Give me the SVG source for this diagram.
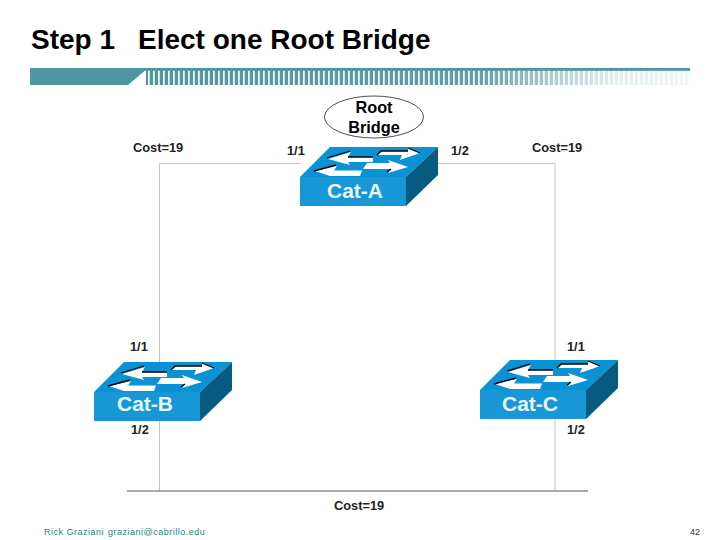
<svg xmlns="http://www.w3.org/2000/svg" width="720" height="540" viewBox="0 0 720 540">
<style>
text{font-family:"Liberation Sans",Arial,sans-serif;fill:#000}
.l{font-size:12.800px;font-weight:bold;fill:#222}
.n{font-size:21px;font-weight:bold;fill:#e8f6fc;text-anchor:middle}
.top{fill:#0a92d4}.front{fill:#1797d5}.side{fill:#055b80}
.w{fill:#fff}.k{fill:none;stroke:#000;stroke-width:1.300}
.c{fill:none;stroke:#c4c4c4;stroke-width:1}
.f{font-size:9px;fill:#1f7f86}
</style>
<defs>
<linearGradient id="fade" gradientUnits="userSpaceOnUse" x1="146" y1="0" x2="690" y2="0">
<stop offset="0" stop-color="#4f96a0"/><stop offset="0.61" stop-color="#5f9fa8"/><stop offset="0.76" stop-color="#b5d0d5"/><stop offset="0.86" stop-color="#e2eded"/><stop offset="1" stop-color="#f2f6f7"/>
</linearGradient>
<pattern id="stripes" patternUnits="userSpaceOnUse" x="148" y="0" width="5" height="20">
<rect width="1.700" height="20" fill="#fff"/>
</pattern>
<g id="sw">
<polygon class="top" points="0,30 30,0 138,0 106,30"/>
<rect class="front" x="0" y="30" width="106" height="29"/>
<polygon class="side" points="106,30 138,0 138,28 106,59"/>
<polygon class="w" points="28,12 51,5 48,10 73,10 73,15 48,15 50,18"/>
<path class="k" d="M27,11 L50,4 M48,10 H73"/>
<polygon class="w" points="77,8 83,4 108,4 108,1 120,6 100,13 102,8"/>
<path class="k" d="M77,8 L81,4 H108 M108,1 L120,6"/>
<polygon class="w" points="15,24 37,19 34,23.500 62,23.500 60,29 30,29"/>
<path class="k" d="M14,24 L36,18"/>
<polygon class="w" points="63,22 67,16 90,16 88,13 108,20 88,26 91,22"/>
<path class="k" d="M87,25 L91,22"/>
</g>
</defs>
<text x="31" y="49" font-size="28" font-weight="bold">Step 1</text>
<text x="138" y="49" font-size="28" font-weight="bold">Elect one Root Bridge</text>
<g id="banner">
<path d="M30,68 H148 L128,85 H30Z" fill="#4f96a0"/>
<rect x="146" y="70" width="544" height="15" fill="url(#fade)"/>
<rect x="146" y="70" width="544" height="15" fill="url(#stripes)"/>
<path d="M130,83 h2 v2 h-2z M134,80 h2 v5 h-2z M138,76 h2 v9 h-2z M142,73 h2 v12 h-2z" fill="#fff"/>
<rect x="30" y="68" width="660" height="2.800" fill="#4f96a0"/>
</g>
<g id="connectors">
<path class="c" d="M300,163.500 H159.500 V491"/>
<path class="c" d="M437,163.500 H555 V491"/>
<path d="M127,491 H588" fill="none" stroke="#555" stroke-width="1"/>
</g>
<g id="root-bridge">
<ellipse cx="374" cy="117" rx="49.500" ry="21" fill="#fff" stroke="#222" stroke-width="0.800"/>
<text x="374" y="112.500" font-size="16.300" font-weight="bold" text-anchor="middle" fill="#222">Root</text>
<text x="374" y="133" font-size="16.300" font-weight="bold" text-anchor="middle" fill="#222">Bridge</text>
</g>
<g id="cat-a"><use href="#sw" x="300" y="147"/><text class="n" x="355" y="198">Cat-A</text></g>
<g id="cat-b"><use href="#sw" x="94" y="362"/><text class="n" x="145" y="411">Cat-B</text></g>
<g id="cat-c"><use href="#sw" x="480" y="360"/><text class="n" x="530" y="411">Cat-C</text></g>
<g id="labels">
<text class="l" x="133" y="152">Cost=19</text>
<text class="l" x="532" y="152">Cost=19</text>
<text class="l" x="287" y="155">1/1</text>
<text class="l" x="451" y="155">1/2</text>
<text class="l" x="130" y="351">1/1</text>
<text class="l" x="131" y="434">1/2</text>
<text class="l" x="567" y="351">1/1</text>
<text class="l" x="567" y="434">1/2</text>
<text class="l" x="334" y="510">Cost=19</text>
</g>
<text class="f" x="44" y="535" letter-spacing="0.500">Rick Graziani</text>
<text class="f" x="108" y="535" letter-spacing="0.500">graziani@cabrillo.edu</text>
<text class="f" x="690" y="535" style="fill:#333">42</text>
</svg>
